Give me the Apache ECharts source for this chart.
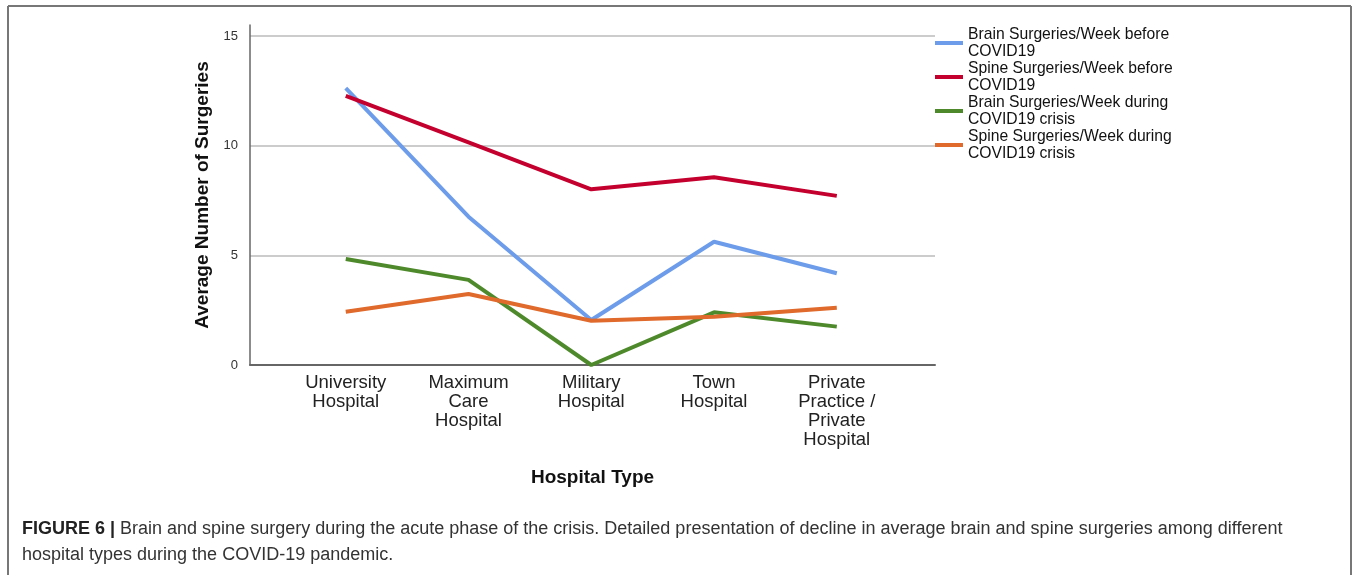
<!DOCTYPE html>
<html>
<head>
<meta charset="utf-8">
<script src="https://cdn.jsdelivr.net/npm/echarts@6/dist/echarts.min.js"></script>
<style>
html,body{margin:0;padding:0;background:#fff;}
#chart{width:1357px;height:575px;}
</style>
</head>
<body>
<div id="chart"></div>
<script>
const categories = ['University\nHospital', 'Maximum\nCare\nHospital', 'Military\nHospital', 'Town\nHospital', 'Private\nPractice /\nPrivate\nHospital'];
const seriesNames = ['Brain Surgeries/Week before\nCOVID19', 'Spine Surgeries/Week before\nCOVID19', 'Brain Surgeries/Week during\nCOVID19 crisis', 'Spine Surgeries/Week during\nCOVID19 crisis'];
const brainBefore = [12.62, 6.76, 2.05, 5.62, 4.18];
const spineBefore = [12.27, 10.15, 8.01, 8.56, 7.71];
const brainDuring = [4.83, 3.88, 0.0, 2.40, 1.75];
const spineDuring = [2.43, 3.24, 2.02, 2.20, 2.61];
const yTicks = [0, 5, 10, 15];
const captionBold = 'FIGURE 6 |';
const captionLine1 = ' Brain and spine surgery during the acute phase of the crisis. Detailed presentation of decline in average brain and spine surgeries among different';
const captionLine2 = 'hospital types during the COVID-19 pandemic.';

const colors = ['#6c9cea', '#c4002f', '#4e8a2b', '#e0692c'];
const allValues = [brainBefore, spineBefore, brainDuring, spineDuring];

const chart = echarts.init(document.getElementById('chart'), null, {renderer: 'canvas'});
const FONT = '"Liberation Sans", Arial, sans-serif';

chart.setOption({
  animation: false,
  backgroundColor: '#fff',
  color: colors,
  grid: {left: 250, right: 422, top: 25, bottom: 210, containLabel: false},
  legend: {
    orient: 'vertical',
    left: 935, top: 26, padding: 0,
    itemWidth: 28, itemHeight: 4, itemGap: 0,
    icon: 'rect',
    selectedMode: false,
    textStyle: {fontFamily: FONT, fontSize: 15.7, lineHeight: 17, color: '#111', padding: [0,0,0,0]},
    data: seriesNames
  },
  xAxis: {
    type: 'value',
    min: -0.78, max: 4.8,
    name: 'Hospital Type',
    nameLocation: 'middle',
    nameGap: 103,
    nameTextStyle: {fontFamily: FONT, fontSize: 19, fontWeight: 'bold', color: '#111'},
    axisLine: {show: true, onZero: false, lineStyle: {color: '#666', width: 2}},
    axisTick: {show: false},
    splitLine: {show: false},
    axisLabel: {
      customValues: [0, 1, 2, 3, 4],
      formatter: v => categories[Math.round(v)],
      fontFamily: FONT, fontSize: 18.5, lineHeight: 19, color: '#222', margin: 8,
      align: 'center', verticalAlign: 'top'
    }
  },
  yAxis: {
    type: 'value',
    min: 0, max: 15.5, interval: 5,
    name: 'Average Number of Surgeries',
    nameLocation: 'middle',
    nameGap: 35,
    nameTextStyle: {fontFamily: FONT, fontSize: 19, fontWeight: 'bold', color: '#111'},
    axisLine: {show: true, onZero: false, lineStyle: {color: '#666', width: 1.5}},
    axisTick: {show: false},
    axisLabel: {
      fontFamily: FONT, fontSize: 13, color: '#333', margin: 12,
      formatter: v => (yTicks.indexOf(v) >= 0 ? String(v) : '')
    },
    splitLine: {show: true, lineStyle: {color: ['#bbbbbb', '#bbbbbb', '#bbbbbb', '#bbbbbb', 'rgba(0,0,0,0)'], width: 1.5}}
  },
  series: seriesNames.map((n, i) => ({
    name: n,
    type: 'line',
    data: allValues[i].map((v, j) => [j, v]),
    showSymbol: false,
    symbol: 'none',
    lineStyle: {width: 4, color: colors[i]},
    itemStyle: {color: colors[i]},
    z: 3
  })),
  graphic: [
    {type: 'line', shape: {x1: 8, y1: 6, x2: 1351, y2: 6}, style: {stroke: '#777', lineWidth: 2}, silent: true},
    {type: 'line', shape: {x1: 8, y1: 6, x2: 8, y2: 575}, style: {stroke: '#777', lineWidth: 2}, silent: true},
    {type: 'line', shape: {x1: 1351, y1: 6, x2: 1351, y2: 575}, style: {stroke: '#777', lineWidth: 2}, silent: true},
    {
      type: 'text', left: 22, top: 520,
      style: {
        text: '{b|' + captionBold + '}{n|' + captionLine1 + '}',
        rich: {
          b: {fontFamily: FONT, fontSize: 18, fontWeight: 'bold', fill: '#222'},
          n: {fontFamily: FONT, fontSize: 18, fill: '#333'}
        }
      }
    },
    {
      type: 'text', left: 22, top: 546,
      style: {text: captionLine2, font: '18px ' + FONT, fill: '#333'}
    }
  ]
});
</script>
</body>
</html>
